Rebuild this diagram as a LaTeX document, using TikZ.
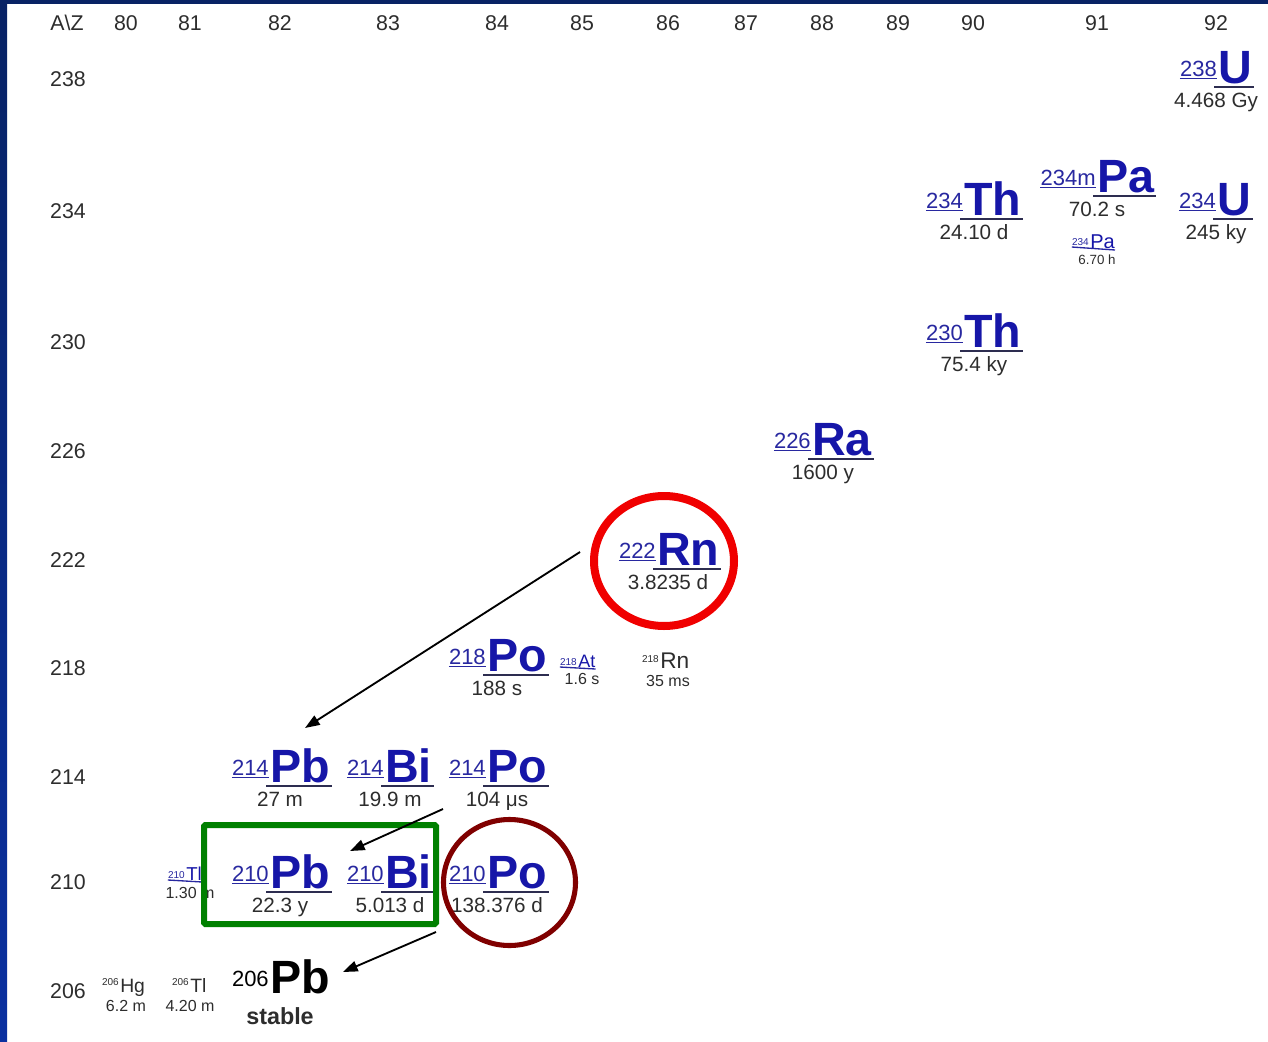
\documentclass[tikz,border=0pt]{standalone}
\usepackage{fontspec}
\setmainfont{Liberation Sans}
\usetikzlibrary{arrows.meta,shapes.geometric}
\definecolor{symblue}{RGB}{22,22,168}
\definecolor{massblue}{RGB}{40,40,160}
\definecolor{ulcol}{RGB}{45,45,80}
\definecolor{txtgray}{RGB}{45,45,45}
\definecolor{navytop}{RGB}{8,34,100}
\definecolor{navybot}{RGB}{10,48,160}
\definecolor{ringred}{RGB}{240,0,0}
\definecolor{ringdark}{RGB}{128,0,0}
\definecolor{boxgreen}{RGB}{0,128,0}
\tikzset{
  sym/.style={font=\fontsize{35}{35}\selectfont\bfseries, text=symblue, inner sep=0pt, anchor=base west},
  mass/.style={font=\fontsize{16.5}{16.5}\selectfont, text=massblue, inner sep=0pt, anchor=base east},
  hl/.style={font=\fontsize{15.5}{15.5}\selectfont, text=txtgray, inner sep=0pt, anchor=base},
  axis/.style={font=\fontsize{16}{16}\selectfont, text=txtgray, inner sep=0pt, anchor=base},
  symline/.style={draw=ulcol, line width=1.9pt},
  massline/.style={draw=massblue, line width=1pt},
  ssym/.style={inner sep=0pt, anchor=base west},
  smass/.style={font=\fontsize{7.5}{7.5}\selectfont, inner sep=0pt, anchor=base east},
  shl/.style={font=\fontsize{12}{12}\selectfont, text=txtgray, inner sep=0pt, anchor=base},
  decay/.style={draw=black, line width=1.4pt, -{Triangle[length=11pt,width=8pt]}},
}
% name, symbol x, baseline y, mass, symbol, half-life x, half-life text
\newcommand{\nuc}[7]{%
  \node[sym] (#1) at (#2,#3) {#5};
  \node[mass] (#1m) at ({#2-1},{#3-7}) {#4};
  \draw[symline] ([xshift=-3pt,yshift=-3pt]#1.base west) -- ([xshift=1pt,yshift=-3pt]#1.base east);
  \draw[massline] ([yshift=-1.8pt]#1m.base west) -- ([yshift=-1.8pt]#1m.base east);
  \node[hl] (#1h) at (#6,{#3+24}) {#7};
}
\begin{document}
\begin{tikzpicture}[x=0.75pt,y=-0.75pt]
\useasboundingbox (0,0) rectangle (1268,1042);
\fill[white] (0,0) rectangle (1268,1042);
\shade[top color=navytop, bottom color=navybot] (0,0) rectangle (7,1042);
\fill[navytop] (0,0) rectangle (1268,4);

% header
\node[axis] (hAZ) at (67,31) {A\textbackslash Z};
\node[axis] (h80) at (126,31) {80};
\node[axis] (h81) at (190,31) {81};
\node[axis] (h82) at (280,31) {82};
\node[axis] (h83) at (388,31) {83};
\node[axis] (h84) at (497,31) {84};
\node[axis] (h85) at (582,31) {85};
\node[axis] (h86) at (668,31) {86};
\node[axis] (h87) at (746,31) {87};
\node[axis] (h88) at (822,31) {88};
\node[axis] (h89) at (898,31) {89};
\node[axis] (h90) at (973,31) {90};
\node[axis] (h91) at (1097,31) {91};
\node[axis] (h92) at (1216,31) {92};
% rows
\node[axis] (r238) at (68,86) {238};
\node[axis] (r234) at (68,218) {234};
\node[axis] (r230) at (68,349) {230};
\node[axis] (r226) at (68,458) {226};
\node[axis] (r222) at (68,567) {222};
\node[axis] (r218) at (68,675) {218};
\node[axis] (r214) at (68,784) {214};
\node[axis] (r210) at (68,889) {210};
\node[axis] (r206) at (68,998) {206};

% main nuclides
\nuc{U238}{1218}{83}{238}{U}{1216}{4.468 Gy}
\nuc{Th234}{964}{215}{234}{Th}{974}{24.10 d}
\nuc{Pa234m}{1097}{192}{234m}{Pa}{1097}{70.2 s}
\nuc{U234}{1217}{215}{234}{U}{1216}{245 ky}
\nuc{Th230}{964}{347}{230}{Th}{974}{75.4 ky}
\nuc{Ra226}{812}{455}{226}{Ra}{823}{1600 y}
\nuc{Rn222}{657}{565}{222}{Rn}{668}{3.8235 d}
\nuc{Po218}{487}{671}{218}{Po}{497}{188 s}
\nuc{Pb214}{270}{782}{214}{Pb}{280}{27 m}
\nuc{Bi214}{385}{782}{214}{Bi}{390}{19.9 m}
\nuc{Po214}{487}{782}{214}{Po}{497}{104 μs}
\nuc{Pb210}{270}{888}{210}{Pb}{280}{22.3 y}
\nuc{Bi210}{385}{888}{210}{Bi}{390}{5.013 d}
\nuc{Po210}{487}{888}{210}{Po}{497}{138.376 d}

% stable 206Pb
\node[sym, text=black] (Pb206) at (270,993) {Pb};
\node[mass, text=black] (Pb206m) at (269,986) {206};
\node[font=\fontsize{17.5}{17.5}\selectfont\bfseries, text=txtgray, inner sep=0pt, anchor=base] (Pb206h) at (280,1024) {stable};

% small nuclides
\node[ssym, font=\fontsize{15}{15}\selectfont, text=symblue] (Pa234) at (1090,248) {Pa};
\node[smass, text=massblue] (Pa234m) at (1089,245) {234};
\draw[massline] ([yshift=-1.5pt]Pa234m.base west) -- ([yshift=-1.5pt]Pa234.base east);
\node[shl, font=\fontsize{10}{10}\selectfont] (Pa234h) at (1097,264) {6.70 h};

\node[ssym, font=\fontsize{13.5}{13.5}\selectfont, text=symblue] (At218) at (578,667) {At};
\node[smass, text=massblue] (At218m) at (577,665) {218};
\draw[massline] ([yshift=-1.5pt]At218m.base west) -- ([yshift=-1.5pt]At218.base east);
\node[shl] (At218h) at (582,684) {1.6 s};

\node[ssym, font=\fontsize{17}{17}\selectfont, text=txtgray] (Rn218) at (660,668) {Rn};
\node[smass, text=txtgray] (Rn218m) at (659,662) {218};
\node[shl] (Rn218h) at (668,686) {35 ms};

\node[ssym, font=\fontsize{14}{14}\selectfont, text=symblue] (Tl210) at (186,880) {Tl};
\node[smass, text=massblue] (Tl210m) at (185,878) {210};
\draw[massline] ([yshift=-1.5pt]Tl210m.base west) -- ([yshift=-1.5pt]Tl210.base east);
\node[shl] (Tl210h) at (190,898) {1.30 m};

\node[ssym, font=\fontsize{14.5}{14.5}\selectfont, text=txtgray] (Hg206) at (120,992) {Hg};
\node[smass, text=txtgray] (Hg206m) at (119,985) {206};
\node[shl] (Hg206h) at (126,1011) {6.2 m};

\node[ssym, font=\fontsize{14.5}{14.5}\selectfont, text=txtgray] (Tl206) at (190,992) {Tl};
\node[smass, text=txtgray] (Tl206m) at (189,985) {206};
\node[shl] (Tl206h) at (190,1011) {4.20 m};

% highlights
\node[ellipse, draw=ringred, line width=6pt, minimum width=105pt, minimum height=97.5pt, inner sep=0pt] (ringRn) at (664,561) {};
\node[ellipse, draw=ringdark, line width=3.8pt, minimum width=99pt, minimum height=94.5pt, inner sep=0pt] (ringPo) at (509.5,882.5) {};
\draw[draw=boxgreen, line width=4.5pt, rounded corners=1pt] (204,825) rectangle (436,924);

% decay arrows
\coordinate (a1s) at (580,552);
\coordinate (a1e) at (305,728);
\coordinate (a2s) at (443,809);
\coordinate (a2e) at (350,851);
\coordinate (a3s) at (436,932);
\coordinate (a3e) at (343,972);
\draw[decay] (a1s) -- (a1e);
\draw[decay] (a2s) -- (a2e);
\draw[decay] (a3s) -- (a3e);
\end{tikzpicture}
\end{document}
